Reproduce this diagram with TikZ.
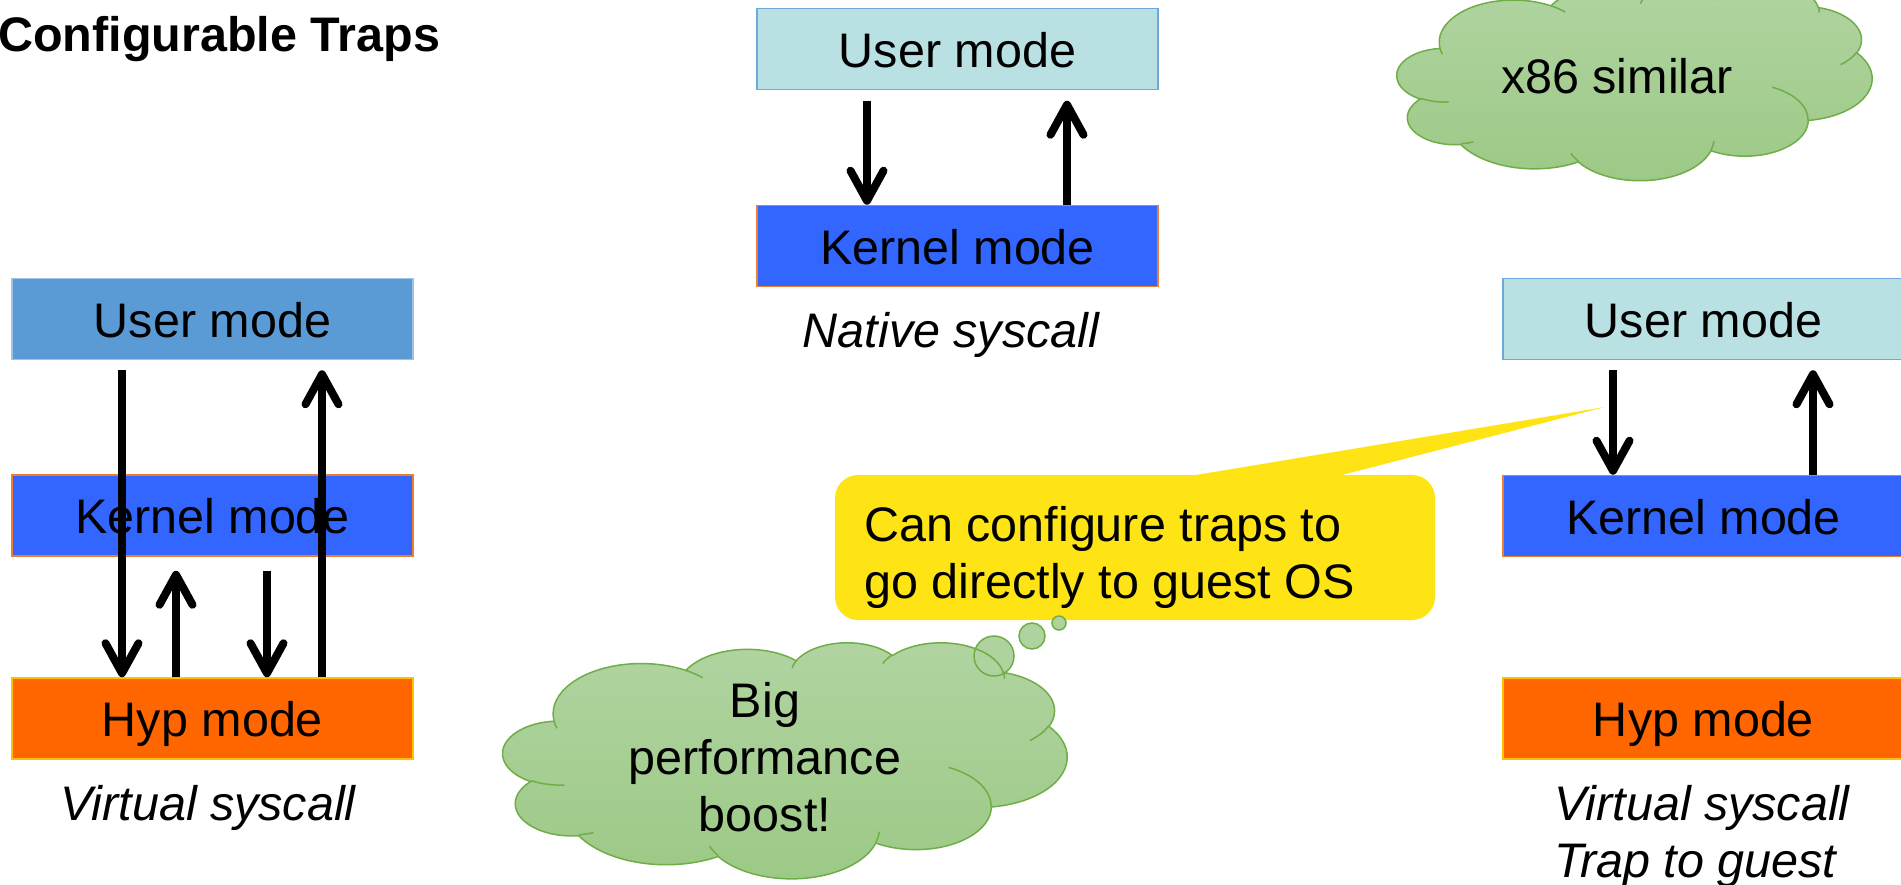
\documentclass[tikz,border=0pt]{standalone}
\usepackage{fontspec}
\setmainfont{Liberation Sans}
\usetikzlibrary{arrows.meta}

\definecolor{userlight}{HTML}{B9E0E3}
\definecolor{userlightedge}{HTML}{6FA8DC}
\definecolor{userblue}{HTML}{5B9BD5}
\definecolor{userblueedge}{HTML}{9DC3E6}
\definecolor{kernelblue}{HTML}{3366FF}
\definecolor{kerneledge}{HTML}{ED7D31}
\definecolor{hyporange}{HTML}{FF6600}
\definecolor{hypedge}{HTML}{FFC000}
\definecolor{noteyellow}{HTML}{FFE415}
\definecolor{cloudtop}{HTML}{B1D4A1}
\definecolor{cloudbottom}{HTML}{9CC986}
\definecolor{cloudedge}{HTML}{70AD47}
\definecolor{bubblefill}{HTML}{AFD39F}

% Elliptical arc given by a visual start angle and sweep (DrawingML style);
% converts them to the parametric angles used by TikZ's arc operation.
\newcommand\ooarc[4]{%
  \pgfmathparse{atan2((#1)*sin(#3),(#2)*cos(#3))}\xdef\ooS{\pgfmathresult}%
  \pgfmathparse{atan2((#1)*sin((#3)+(#4)),(#2)*cos((#3)+(#4)))}\xdef\ooE{\pgfmathresult}%
  \pgfmathparse{\ooE-\ooS}\xdef\ooD{\pgfmathresult}%
  \pgfmathparse{\ooD<0 ? \ooD+360 : \ooD}\xdef\ooD{\pgfmathresult}%
}
\newcommand\oa[4]{\pgfextra{\ooarc{#1}{#2}{#3}{#4}} arc[start angle=\ooS, delta angle=\ooD, x radius=#1, y radius=#2]}

% Cloud outline in a 43.2 x 43.2 frame, placed at left/top with width/height
\newcommand\pcloud[4]{%
  \pgfmathsetmacro\cux{#3/43.2}\pgfmathsetmacro\cuy{#4/43.2}%
  \begin{scope}[shift={(#1,#2)}, x=\cux pt, y=-\cuy pt]
    \path[cloudbody] (3.9,14.37)
      \oa{6.753}{9.19}{-190.4875}{123.7805}
      \oa{5.333}{7.267}{-144.1024}{89.9452}
      \oa{4.365}{5.945}{-145.8079}{99.7230}
      \oa{4.857}{6.595}{-130.9861}{117.2417}
      \oa{5.333}{7.273}{-78.7089}{109.0269}
      \oa{6.775}{9.22}{-46.2673}{130.2690}
      \oa{5.785}{7.867}{0.6250}{114.0333}
      \oa{6.752}{9.215}{22.4516}{115.1726}
      \oa{7.72}{10.543}{66.2426}{75.7110}
      \oa{4.36}{5.918}{-274.9421}{146.7356}
      \oa{4.345}{5.945}{-246.8285}{152.5189}
      -- cycle;
    \path[cloudline]
      (4.693,26.177) \oa{4.345}{5.945}{86.7420}{26.4295}
      (6.928,34.899) \oa{4.36}{5.918}{73.6105}{11.4475}
      (16.478,39.09) \oa{6.752}{9.215}{137.6242}{14.0811}
      (28.827,34.751) \oa{6.752}{9.215}{6.4533}{15.9984}
      (34.129,22.954) \oa{5.785}{7.867}{-70.2924}{70.9174}
      (41.798,15.354) \oa{5.333}{7.273}{30.3180}{27.7515}
      (38.324,5.426) \oa{4.857}{6.595}{-13.7443}{14.8589}
      (29.078,3.952) \oa{4.857}{6.595}{-149.1815}{18.1954}
      (22.141,4.72) \oa{4.365}{5.945}{-163.4943}{17.6864}
      (14.0,5.192) \oa{6.753}{9.19}{-66.7070}{12.3194}
      (4.127,15.789) \oa{6.753}{9.19}{157.6544}{11.8582};
  \end{scope}}

\tikzset{
  every node/.style={font=\fontsize{48.5}{57}\selectfont},
  modebox/.style={rectangle, minimum width=401pt, minimum height=81pt, inner sep=0pt,
    text height=36.6pt, text depth=0pt, line width=1.5pt},
  userdark/.style={modebox, fill=userblue, draw=userblueedge},
  userpale/.style={modebox, fill=userlight, draw=userlightedge},
  kernelbox/.style={modebox, fill=kernelblue, draw=kerneledge},
  hypbox/.style={modebox, fill=hyporange, draw=hypedge},
  caption/.style={font=\itshape\fontsize{48.5}{57}\selectfont, inner sep=0pt},
  arr/.style={line width=8pt, -{Straight Barb[length=30pt, width=33pt, round]}},
  note/.style={rectangle, rounded corners=23pt, fill=noteyellow, inner sep=0pt,
    minimum width=600pt, minimum height=145pt},
  cloudbody/.style={draw=cloudedge, line width=1.5pt, top color=cloudtop, bottom color=cloudbottom},
  cloudline/.style={draw=cloudedge, line width=1.5pt},
  bubblebody/.style={circle, fill=bubblefill, inner sep=0pt},
  bubbleedge/.style={circle, draw=cloudedge, line width=1.5pt, inner sep=0pt},
}

\begin{document}
\begin{tikzpicture}[x=1pt, y=-1pt]
\useasboundingbox (0,0) rectangle (1901,885);
\clip (0,0) rectangle (1901,885);

% title
\node[anchor=base west, inner sep=0pt, font=\bfseries\fontsize{48.5}{57}\selectfont] (title) at (-2,52) {Configurable Traps};

% left column: virtual syscall through the hypervisor
\node[userdark] (lu) at (212.5,319) {User mode};
\node[kernelbox] (lk) at (212.5,515.5) {Kernel mode};
\node[hypbox] (lh) at (212.5,718.5) {Hyp mode};
\node[caption, anchor=base] (lcap) at (208,820) {Virtual syscall};
\draw[arr] ([xshift=-90.5pt,yshift=-10pt]lu.south) -- ([xshift=-90.5pt]lh.north);
\draw[arr] ([xshift=-36.5pt]lh.north) -- ([xshift=-36.5pt,yshift=-14pt]lk.south);
\draw[arr] ([xshift=54.5pt,yshift=-14pt]lk.south) -- ([xshift=54.5pt]lh.north);
\draw[arr] ([xshift=109.5pt]lh.north) -- ([xshift=109.5pt,yshift=-10pt]lu.south);

% middle column: native syscall
\node[userpale] (mu) at (957.5,49) {User mode};
\node[kernelbox] (mk) at (957.5,246) {Kernel mode};
\node[caption, anchor=base] (mcap) at (951,348) {Native syscall};
\draw[arr] ([xshift=-90.5pt,yshift=-10.5pt]mu.south) -- ([xshift=-90.5pt]mk.north);
\draw[arr] ([xshift=109.5pt]mk.north) -- ([xshift=109.5pt,yshift=-10.5pt]mu.south);

% right column: trap straight to the guest
\node[userpale] (ru) at (1703.5,319) {User mode};
\node[kernelbox] (rk) at (1703.5,516) {Kernel mode};
\node[hypbox] (rh) at (1703.5,718.5) {Hyp mode};
\node[caption, align=left, anchor=west] (rcap) at (1554,836) {Virtual syscall\\Trap to guest};

% yellow note with its pointer
\node[note] (callbox) at (1135,547.5) {};
\coordinate (tailtip) at (1605,407);
\fill[noteyellow] ([xshift=50pt,yshift=-2pt]callbox.north) -- (tailtip) -- ([xshift=200pt,yshift=-2pt]callbox.north) -- cycle;
\node[anchor=west, align=left, inner sep=0pt] (calltext) at (864,557) {Can configure traps to\\go directly to guest OS};

\draw[arr] ([xshift=-90.5pt,yshift=-10pt]ru.south) -- ([xshift=-90.5pt]rk.north);
\draw[arr] ([xshift=109.5pt]rk.north) -- ([xshift=109.5pt,yshift=-10pt]ru.south);

% thought bubbles and the big cloud
\node[bubblebody, minimum size=40pt] (b3) at (994,656) {};
\node[bubblebody, minimum size=26pt] (b2) at (1032,636) {};
\node[bubblebody, minimum size=14pt] (b1) at (1059,623) {};
\pcloud{503}{642}{564}{236}
\node[bubbleedge, minimum size=40pt] (b3e) at (b3) {};
\node[bubbleedge, minimum size=26pt] (b2e) at (b2) {};
\node[bubbleedge, minimum size=14pt] (b1e) at (b1) {};
\node[align=center, inner sep=0pt] (boost) at (765,757) {Big\\performance\\boost!};

% small cloud, top right
\pcloud{1397}{-18}{475}{198}
\node[anchor=base] (x86) at (1617,94) {x86 similar};
\end{tikzpicture}
\end{document}
